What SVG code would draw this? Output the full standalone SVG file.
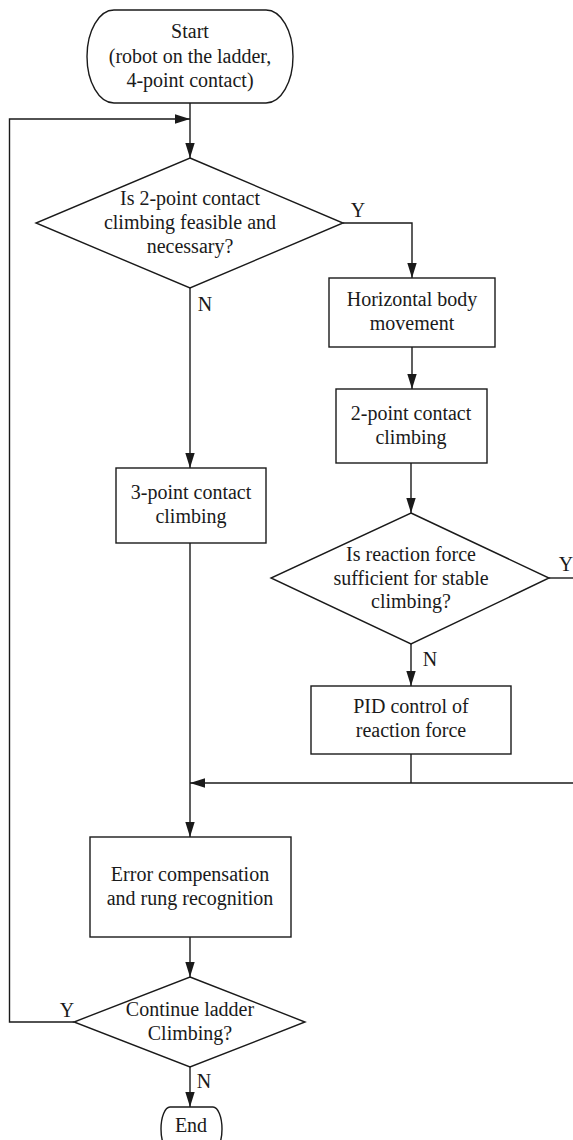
<svg xmlns="http://www.w3.org/2000/svg" width="573" height="1140" viewBox="0 0 573 1140">
<style>
.s{fill:#fff;stroke:#1a1a1a;stroke-width:1.4}
.c{fill:none;stroke:#1a1a1a;stroke-width:1.4}
text{font-family:"Liberation Serif","Times New Roman",serif;font-size:20px;fill:#1a1a1a;text-anchor:middle}
</style>
<defs>
<marker id="ah" markerWidth="15" markerHeight="10" refX="15" refY="5" orient="auto" markerUnits="userSpaceOnUse">
<path d="M0,0.3 L15,5 L0,9.7 Z" fill="#1a1a1a"/>
</marker>
</defs>
<rect width="573" height="1140" fill="#fff"/>
<g id="connectors">
<line class="c" x1="190" y1="103" x2="190" y2="158" marker-end="url(#ah)"/>
<polyline class="c" points="74,1022 9.5,1022 9.5,119 190,119" marker-end="url(#ah)"/>
<polyline class="c" points="343,223 412,223 412,278" marker-end="url(#ah)"/>
<line class="c" x1="190" y1="288" x2="190" y2="468" marker-end="url(#ah)"/>
<line class="c" x1="412" y1="347" x2="412" y2="389" marker-end="url(#ah)"/>
<line class="c" x1="411" y1="463" x2="411" y2="513" marker-end="url(#ah)"/>
<line class="c" x1="549" y1="578" x2="573" y2="578"/>
<line class="c" x1="411" y1="644" x2="411" y2="686" marker-end="url(#ah)"/>
<line class="c" x1="411" y1="754" x2="411" y2="783"/>
<line class="c" x1="573" y1="783" x2="190" y2="783" marker-end="url(#ah)"/>
<line class="c" x1="190" y1="543" x2="190" y2="837" marker-end="url(#ah)"/>
<line class="c" x1="190" y1="937" x2="190" y2="977" marker-end="url(#ah)"/>
<line class="c" x1="190" y1="1067" x2="190" y2="1107" marker-end="url(#ah)"/>
<text x="358" y="217">Y</text>
<text x="205" y="311">N</text>
<text x="566" y="571">Y</text>
<text x="430" y="666">N</text>
<text x="67" y="1017">Y</text>
<text x="204" y="1088">N</text>
</g>
<g id="start">
<rect class="s" x="87" y="10" width="206" height="93" rx="27" ry="46.5"/>
<text x="190" y="38">Start</text>
<text x="190" y="63">(robot on the ladder,</text>
<text x="190" y="87">4-point contact)</text>
</g>
<g id="decision1">
<polygon class="s" points="190,158 343,223 190,288 36,223"/>
<text x="190" y="205">Is 2-point contact</text>
<text x="190" y="229">climbing feasible and</text>
<text x="190" y="253">necessary?</text>
</g>
<g id="horizontal">
<rect class="s" x="329" y="278" width="166" height="69"/>
<text x="412" y="306">Horizontal body</text>
<text x="412" y="330">movement</text>
</g>
<g id="twopoint">
<rect class="s" x="336" y="389" width="151" height="74"/>
<text x="411" y="420">2-point contact</text>
<text x="411" y="444">climbing</text>
</g>
<g id="decision2">
<polygon class="s" points="411,513 549,578 411,644 271,578"/>
<text x="411" y="561">Is reaction force</text>
<text x="411" y="585">sufficient for stable</text>
<text x="411" y="608">climbing?</text>
</g>
<g id="pid">
<rect class="s" x="311" y="686" width="200" height="68"/>
<text x="411" y="713">PID control of</text>
<text x="411" y="737">reaction force</text>
</g>
<g id="threepoint">
<rect class="s" x="116" y="468" width="150" height="75"/>
<text x="191" y="499">3-point contact</text>
<text x="191" y="523">climbing</text>
</g>
<g id="error">
<rect class="s" x="90" y="837" width="201" height="100"/>
<text x="190" y="881">Error compensation</text>
<text x="190" y="905">and rung recognition</text>
</g>
<g id="decision3">
<polygon class="s" points="190,977 305,1022 190,1067 74,1022"/>
<text x="190" y="1016">Continue ladder</text>
<text x="190" y="1040">Climbing?</text>
</g>
<g id="end">
<rect class="s" x="161" y="1107" width="61" height="44" rx="9" ry="22"/>
<text x="191" y="1132">End</text>
</g>
</svg>
